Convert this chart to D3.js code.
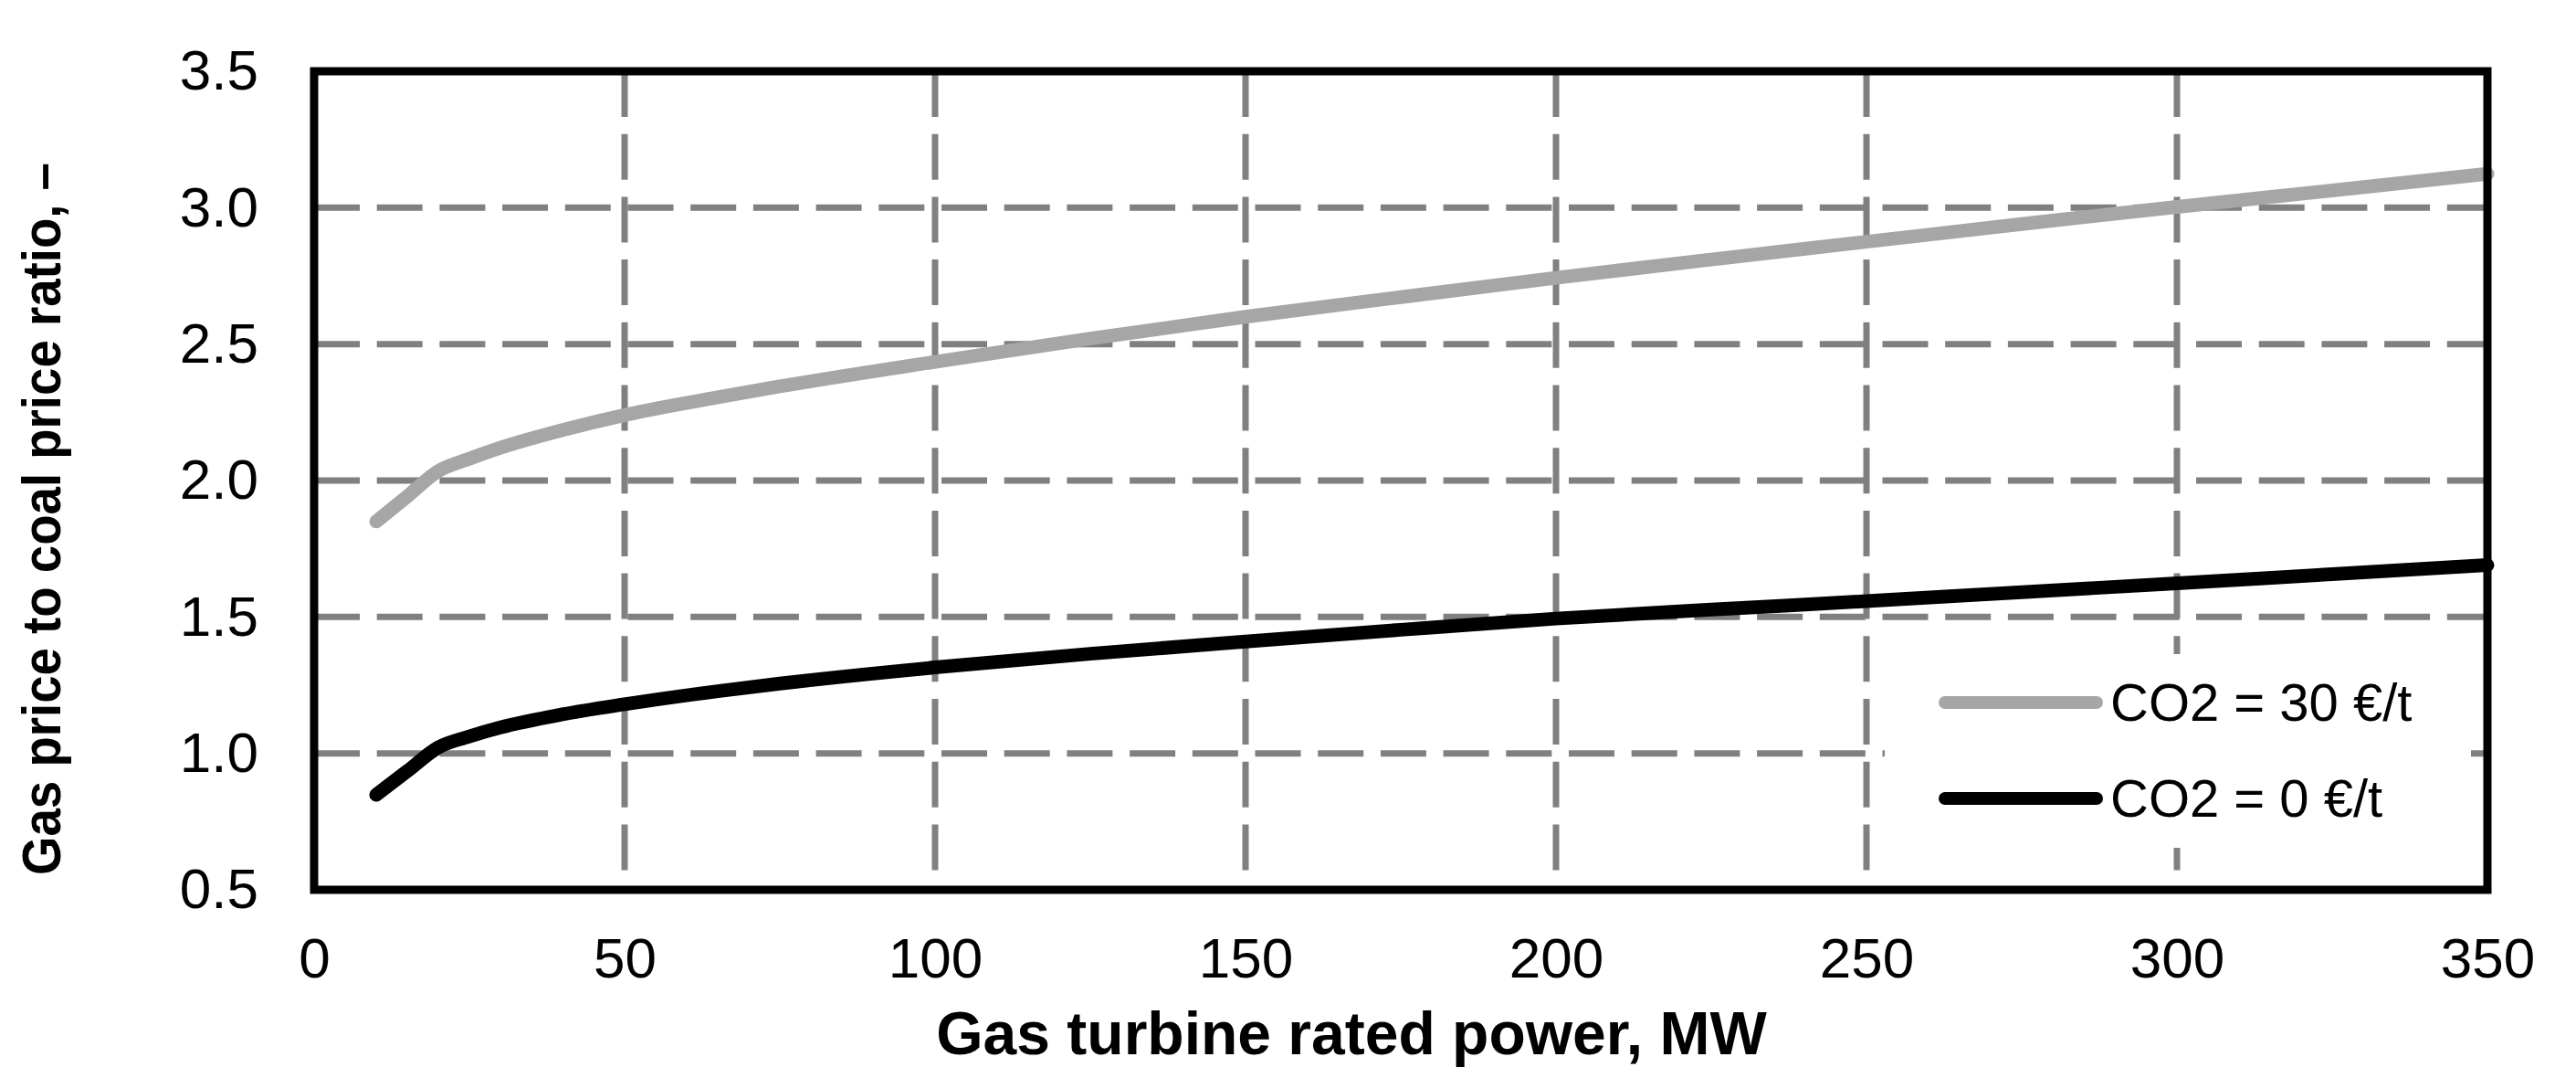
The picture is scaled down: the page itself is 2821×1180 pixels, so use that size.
<!DOCTYPE html>
<html>
<head>
<meta charset="utf-8">
<script src="https://cdn.jsdelivr.net/npm/d3@7"></script>
<style>
  html, body { margin: 0; padding: 0; background: #fff; }
  text { font-family: "Liberation Sans", Arial, sans-serif; }
</style>
</head>
<body>
<div class="chart"></div>
<script>
const WIDTH = 2821;
const HEIGHT = 1180;
const LEFT = 344, RIGHT = 2724, TOP = 78, BOTTOM = 974;

// data
const POWER = [10, 15, 20, 25, 30, 40, 50, 65, 75, 100, 125, 150, 175, 200, 225, 250, 275, 300, 325, 350];
const CO2_30 = [1.85, 1.942, 2.035, 2.08, 2.12, 2.185, 2.24, 2.305, 2.345, 2.435, 2.52, 2.60, 2.672, 2.743, 2.81, 2.875, 2.94, 3.003, 3.063, 3.124];
const CO2_0 = [0.848, 0.935, 1.022, 1.062, 1.095, 1.143, 1.18, 1.228, 1.256, 1.315, 1.365, 1.41, 1.453, 1.494, 1.527, 1.558, 1.591, 1.623, 1.657, 1.69];
const X_TICKS = [0, 50, 100, 150, 200, 250, 300, 350];
const Y_TICKS = [0.5, 1.0, 1.5, 2.0, 2.5, 3.0, 3.5];
const SERIES = [
  { name: "CO2 = 30 €/t", values: CO2_30, color: "#a6a6a6" },
  { name: "CO2 = 0 €/t", values: CO2_0, color: "#000000" }
];

const svg = d3.select(".chart").append("svg")
  .attr("width", WIDTH).attr("height", HEIGHT);

svg.append("rect").attr("width", WIDTH).attr("height", HEIGHT).attr("fill", "#fff");

const x = d3.scaleLinear().domain([0, 350]).range([LEFT, RIGHT]);
const y = d3.scaleLinear().domain([0.5, 3.5]).range([BOTTOM, TOP]);

// Grid
const grid = svg.append("g")
  .attr("stroke", "#808080").attr("stroke-width", 7)
  .attr("stroke-dasharray", "50,18.7");

grid.selectAll(".hgrid").data(Y_TICKS.slice(1, -1)).enter().append("line")
  .attr("x1", LEFT).attr("x2", RIGHT)
  .attr("y1", d => y(d)).attr("y2", d => y(d));

grid.selectAll(".vgrid").data(X_TICKS.slice(1, -1)).enter().append("line")
  .attr("x1", d => x(d)).attr("x2", d => x(d))
  .attr("y1", TOP).attr("y2", BOTTOM);

// Lines
const line = d3.line().curve(d3.curveMonotoneX);
SERIES.forEach(s => {
  svg.append("path")
    .datum(POWER.map((p, i) => [x(p), y(s.values[i])]))
    .attr("d", line)
    .attr("fill", "none")
    .attr("stroke", s.color)
    .attr("stroke-width", 15)
    .attr("stroke-linecap", "round")
    .attr("stroke-linejoin", "round");
});

// Legend
const legend = svg.append("g");
legend.append("rect")
  .attr("x", 2064).attr("y", 716).attr("width", 642).attr("height", 212)
  .attr("fill", "#fff");
SERIES.forEach((s, i) => {
  const ly = 769 + i * 105;
  legend.append("line")
    .attr("x1", 2130).attr("x2", 2296).attr("y1", ly).attr("y2", ly)
    .attr("stroke", s.color).attr("stroke-width", 14)
    .attr("stroke-linecap", "round");
  legend.append("text")
    .attr("x", 2311).attr("y", ly).attr("dy", "0.35em")
    .attr("font-size", 58).attr("fill", "#000")
    .text(s.name);
});

// Frame
svg.append("rect")
  .attr("x", LEFT).attr("y", TOP)
  .attr("width", RIGHT - LEFT).attr("height", BOTTOM - TOP)
  .attr("fill", "none").attr("stroke", "#000").attr("stroke-width", 9);

// Axes
const xAxis = svg.append("g")
  .attr("transform", `translate(0, ${BOTTOM + 96})`)
  .call(d3.axisBottom(x).tickValues(X_TICKS).tickSize(0).tickPadding(0).tickFormat(d3.format("d")));
xAxis.select(".domain").remove();
xAxis.selectAll("text")
  .attr("dy", 0).attr("font-size", 62).attr("fill", "#000")
  .style("font-family", '"Liberation Sans", Arial, sans-serif');

const yAxis = svg.append("g")
  .attr("transform", `translate(283, 0)`)
  .call(d3.axisLeft(y).tickValues(Y_TICKS).tickSize(0).tickPadding(0).tickFormat(d3.format(".1f")));
yAxis.select(".domain").remove();
yAxis.selectAll("text")
  .attr("font-size", 62).attr("fill", "#000")
  .style("font-family", '"Liberation Sans", Arial, sans-serif');

// Titles
svg.append("text")
  .attr("x", 1480).attr("y", 1154)
  .attr("text-anchor", "middle")
  .attr("font-size", 66).attr("font-weight", "bold")
  .text("Gas turbine rated power, MW");

svg.append("text")
  .attr("transform", "translate(66, 568) rotate(-90)")
  .attr("text-anchor", "middle")
  .attr("font-size", 60).attr("font-weight", "bold")
  .attr("textLength", 780).attr("lengthAdjust", "spacingAndGlyphs")
  .text("Gas price to coal price ratio, –");
</script>
</body>
</html>
